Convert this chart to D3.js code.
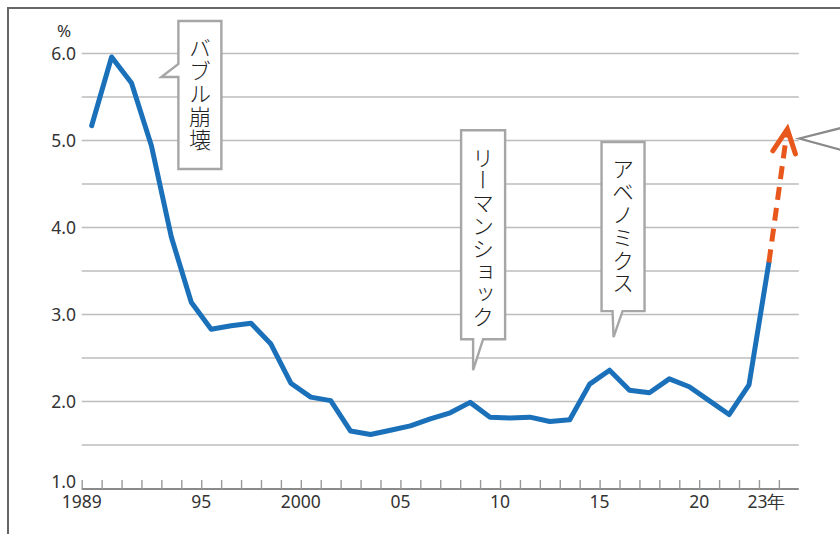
<!DOCTYPE html>
<html><head><meta charset="utf-8">
<script src="https://cdn.jsdelivr.net/npm/d3@7"></script>
<style>
html,body{margin:0;padding:0;background:#fff;}
svg{display:block;}
.num{font-family:"Noto Sans","Open Sans",sans-serif;fill:#333;}
.jp{font-family:"Noto Sans CJK JP",sans-serif;fill:#222;font-weight:300;}
</style></head>
<body><svg id="c" width="840" height="534"></svg>
<script>
// ---- data ----
const years = [1989,1990,1991,1992,1993,1994,1995,1996,1997,1998,1999,2000,2001,2002,2003,2004,2005,2006,2007,2008,2009,2010,2011,2012,2013,2014,2015,2016,2017,2018,2019,2020,2021,2022,2023];
const rates = [5.17,5.96,5.66,4.94,3.89,3.14,2.83,2.87,2.90,2.66,2.21,2.05,2.01,1.66,1.62,1.67,1.72,1.80,1.87,1.99,1.82,1.81,1.82,1.77,1.79,2.20,2.36,2.13,2.10,2.26,2.17,2.01,1.85,2.19,3.60];
const forecastYears = [2023, 2024];
const forecastRates = [3.60, 5.13];
const yTicks = [1,2,3,4,5,6];
const yTickLabels = ["1.0","2.0","3.0","4.0","5.0","6.0"];
const gridValues = [1.5,2,2.5,3,3.5,4,4.5,5,5.5,6];
const xLabelYears = [1989,1995,2000,2005,2010,2015,2020,2023];
const xLabels = ["1989","95","2000","05","10","15","20","23年"];
const callouts = [
  {text:"バブル崩壊", year:1993.0, value:5.73},
  {text:"リーマンショック", year:2008.65, value:2.36},
  {text:"アベノミクス", year:2015.7, value:2.74}
];

const svg = d3.select("#c");
const x = d3.scaleLinear().domain([1989, 2025]).range([81.7, 798.8]);
const y = d3.scaleLinear().domain([1, 6]).range([488.5, 53.5]);
const px = yr => x(yr + 0.5);

// frame
svg.append("rect").attr("x",8).attr("y",8).attr("width",900).attr("height",600)
  .attr("fill","none").attr("stroke","#666").attr("stroke-width",2);

// gridlines
svg.append("g").selectAll("line").data(gridValues).join("line")
  .attr("x1", x(1989)).attr("x2", x(2025))
  .attr("y1", d=>y(d)).attr("y2", d=>y(d))
  .attr("stroke","#bdbdbd").attr("stroke-width",1.6);

// x axis
const xAxis = d3.axisBottom(x).tickValues(d3.range(1989, 2025)).tickSize(-9).tickFormat("");
const gx = svg.append("g").attr("transform",`translate(0,${y(1)+0.5})`).call(xAxis);
gx.select(".domain").attr("stroke","#8a8a8a").attr("stroke-width",2.2).attr("d",`M${x(1989)},0H${x(2025)}`);
gx.selectAll(".tick line").attr("stroke","#9a9a9a").attr("stroke-width",1.4);

svg.append("g").selectAll("text").data(xLabelYears).join("text")
  .attr("class","num")
  .attr("x", (d,i)=> i===xLabels.length-1 ? x(d)-11.5 : x(d))
  .attr("y", 508)
  .attr("text-anchor", (d,i)=> i===xLabels.length-1 ? "start" : "middle")
  .attr("font-size", 17.5)
  .text((d,i)=>xLabels[i]);

// y labels
svg.append("g").selectAll("text").data(yTicks).join("text")
  .attr("class","num")
  .attr("x", 76).attr("y", d=> d===1 ? y(d)-7 : y(d))
  .attr("dy","0.35em").attr("text-anchor","end")
  .attr("font-size",17.5)
  .text((d,i)=>yTickLabels[i]);
svg.append("text").attr("class","num").attr("x",64).attr("y",37)
  .attr("text-anchor","middle").attr("font-size",17).text("%");

// callouts
function bubblePath(c, i){
  const tx = x(c.year), ty = y(c.value);
  if(i===0){
    const x0 = tx+17, x1 = tx+60, y0 = ty-56, y1 = ty+92;
    return {d:`M${x0},${y0}H${x1}V${y1}H${x0}V${ty}L${tx},${ty}L${x0},${ty-13}Z`, cx:(x0+x1)/2, top:y0};
  } else if(i===1){
    const x0 = tx-12, x1 = tx+32, y0 = ty-240, y1 = ty-31;
    return {d:`M${x0},${y0}H${x1}V${y1}H${tx+10}L${tx},${ty}L${tx},${y1}H${x0}Z`, cx:(x0+x1)/2, top:y0};
  } else {
    const x0 = tx-12, x1 = tx+31, y0 = ty-195, y1 = ty-26;
    return {d:`M${x0},${y0}H${x1}V${y1}H${tx+9}L${tx},${ty}L${tx-1},${y1}H${x0}Z`, cx:(x0+x1)/2, top:y0};
  }
}
const cg = svg.append("g");
callouts.forEach((c,i)=>{
  const b = bubblePath(c,i);
  cg.append("path").attr("d", b.d).attr("fill","#fff")
    .attr("stroke","#a6a6a6").attr("stroke-width",2.4).attr("stroke-linejoin","miter");
  cg.append("text").attr("class","jp")
    .attr("x", b.cx).attr("y", b.top + 16)
    .attr("font-size", 22).attr("letter-spacing", 0.8)
    .style("writing-mode","vertical-rl")
    .text(c.text);
});

// right-edge callout pointer (body off-canvas)
svg.append("path").attr("d",`M845,127L${x(2025)+0.5},${y(5.0)-2}L845,151`)
  .attr("fill","#fff").attr("stroke","#8a8a8a").attr("stroke-width",2.2);

// main line
const line = d3.line().x(d=>px(d[0])).y(d=>y(d[1]));
svg.append("path").datum(years.map((yr,i)=>[yr,rates[i]]))
  .attr("d", line).attr("fill","none").attr("stroke","#1b70ba")
  .attr("stroke-width",5).attr("stroke-linejoin","round").attr("stroke-linecap","round");

// forecast dashed arrow
const fpts = forecastYears.map((yr,i)=>[px(yr)-(i?1.5:0), y(forecastRates[i])]);
svg.append("path").attr("d", d3.line()(fpts)).attr("fill","none")
  .attr("stroke","#e8571b").attr("stroke-width",5).attr("stroke-dasharray","13 8");
const tip = fpts[1], from = fpts[0];
const ang = Math.atan2(from[1]-tip[1], from[0]-tip[0]);
const L = 26, spread = 26*Math.PI/180;
const a1 = [tip[0]+L*Math.cos(ang-spread), tip[1]+L*Math.sin(ang-spread)];
const a2 = [tip[0]+L*Math.cos(ang+spread), tip[1]+L*Math.sin(ang+spread)];
svg.append("path").attr("d", d3.line()([a1, tip, a2])).attr("fill","none")
  .attr("stroke","#e8571b").attr("stroke-width",5)
  .attr("stroke-linecap","round").attr("stroke-linejoin","miter");
</script></body></html>
